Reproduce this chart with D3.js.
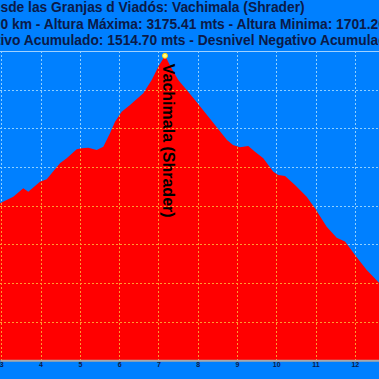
<!DOCTYPE html>
<html>
<head>
<meta charset="utf-8">
<script src="https://cdn.jsdelivr.net/npm/d3@7"></script>
<style>
  body { margin: 0; background: #0080ff; }
  svg { display: block; }
</style>
</head>
<body>
<svg id="chart"></svg>
<script>
// profile samples (km, metres)
const distKm = [2.967, 3.305, 3.56, 3.687, 3.985, 4.156, 4.494, 4.665, 4.92, 5.047, 5.215, 5.429,
  5.597, 5.767, 5.895, 6.065, 6.277, 6.615, 6.829, 6.997, 7.167, 7.338, 7.506, 7.72, 7.931,
  8.135, 8.339, 8.542, 8.746, 8.899, 9.077, 9.288, 9.459, 9.67, 9.925, 10.052, 10.223, 10.477,
  10.775, 10.986, 11.284, 11.539, 11.75, 12.005, 12.303, 12.616]
const elevM = [2412, 2446, 2490, 2472, 2524, 2536, 2619, 2645, 2692, 2697, 2700, 2688,
  2705, 2774, 2834, 2886, 2921, 2981, 3050, 3119, 3175.41, 3110, 3050, 2998, 2947,
  2895, 2843, 2791, 2740, 2714, 2702, 2709, 2679, 2645, 2576, 2559, 2553, 2507,
  2446, 2386, 2291, 2234, 2214, 2145, 2067, 2001]
const kmTicks = [3, 4, 5, 6, 7, 8, 9, 10, 11, 12]
const elevTicks = [1800, 2000, 2200, 2400, 2600, 2800, 3000]
const elevRange = [1600, 3200]
const peak = { km: 7.167, ele: 3175.41, name: 'Vachimala (Shrader)' }

// title lines, with the part that is visible in the cropped picture
const titleLines = [
  { text: 'Ruta desde las Granjas d Viadós: Vachimala (Shrader)', from: 'sde' },
  { text: 'Distancia Total: 14.30 km - Altura Máxima: 3175.41 mts - Altura Minima: 1701.20 mts', from: '0 km' },
  { text: 'Desnivel Positivo Acumulado: 1514.70 mts - Desnivel Negativo Acumulado: 1514.70 mts', from: 'ivo' }
]

const width = 379
const height = 379
const plot = { top: 51, bottom: 360.3 }

const svg = d3.select('#chart')
  .attr('width', width)
  .attr('height', height)
  .style('font-family', 'Liberation Sans, Arial, sans-serif')

svg.append('rect')
  .attr('width', width).attr('height', height)
  .attr('fill', '#0080ff')

const x = d3.scaleLinear()
  .domain([distKm[0], distKm[distKm.length - 1]])
  .range([0, width])

const y = d3.scaleLinear()
  .domain(elevRange)
  .range([plot.bottom, plot.top])

const data = distKm.map((k, i) => ({ km: k, ele: elevM[i] }))

const drawGrid = (g, color) => {
  g.selectAll('line.v')
    .data(kmTicks)
    .join('line')
    .attr('class', 'v')
    .attr('x1', d => Math.round(x(d)) + 0.5).attr('x2', d => Math.round(x(d)) + 0.5)
    .attr('y1', plot.top).attr('y2', plot.bottom)
  g.selectAll('line.h')
    .data(elevTicks)
    .join('line')
    .attr('class', 'h')
    .attr('x1', 0).attr('x2', width)
    .attr('y1', d => Math.round(y(d)) + 0.5).attr('y2', d => Math.round(y(d)) + 0.5)
  g.selectAll('line')
    .attr('stroke', color)
    .attr('stroke-width', 1)
    .attr('stroke-dasharray', '2,2')
}

svg.append('g').call(drawGrid, '#8fd0ff')

const area = d3.area()
  .x(d => x(d.km))
  .y0(y(elevRange[0]))
  .y1(d => y(d.ele))

svg.append('clipPath')
  .attr('id', 'profile-clip')
  .append('path')
  .datum(data)
  .attr('d', area)

svg.append('path')
  .datum(data)
  .attr('fill', '#ff0000')
  .attr('d', area)

svg.append('g')
  .attr('clip-path', 'url(#profile-clip)')
  .call(drawGrid, '#ff9a30')

// top frame line
svg.append('line')
  .attr('x1', 0).attr('x2', width)
  .attr('y1', y(elevRange[1]) + 0.5).attr('y2', y(elevRange[1]) + 0.5)
  .attr('stroke', '#9fd2ff')

const xAxis = svg.append('g')
  .attr('transform', `translate(0,${plot.bottom})`)
  .call(d3.axisBottom(x).tickValues(kmTicks).tickSize(0).tickSizeOuter(0).tickPadding(1.5))

xAxis.select('.domain')
  .attr('stroke', '#a9a9a9')
  .attr('stroke-width', 2)

xAxis.selectAll('text')
  .attr('fill', '#0b1a48')
  .style('font-size', '7px')
  .style('font-weight', 'bold')
  .style('font-family', 'Liberation Sans, Arial, sans-serif')

// peak marker and name
svg.append('circle')
  .attr('cx', x(peak.km)).attr('cy', y(peak.ele))
  .attr('r', 2.5)
  .attr('fill', '#ffff80')
  .attr('stroke', '#ffd000')
  .attr('stroke-width', 1)

svg.append('text')
  .attr('transform', `translate(${x(peak.km) - 2},${y(peak.ele) + 8}) rotate(90)`)
  .attr('fill', '#000')
  .style('font-size', '16px')
  .style('font-weight', 'bold')
  .text(peak.name)

// titles
const baselines = [12, 28.5, 45]
titleLines.forEach((line, i) => {
  const t = svg.append('text')
    .attr('y', baselines[i])
    .attr('fill', '#0b1a48')
    .style('font-size', '13.8px')
    .style('font-weight', 'bold')
    .text(line.text)
  const idx = line.text.indexOf(line.from)
  const offset = idx > 0 ? t.node().getSubStringLength(0, idx) : 0
  t.attr('x', 0.5 - offset)
})
</script>
</body>
</html>
